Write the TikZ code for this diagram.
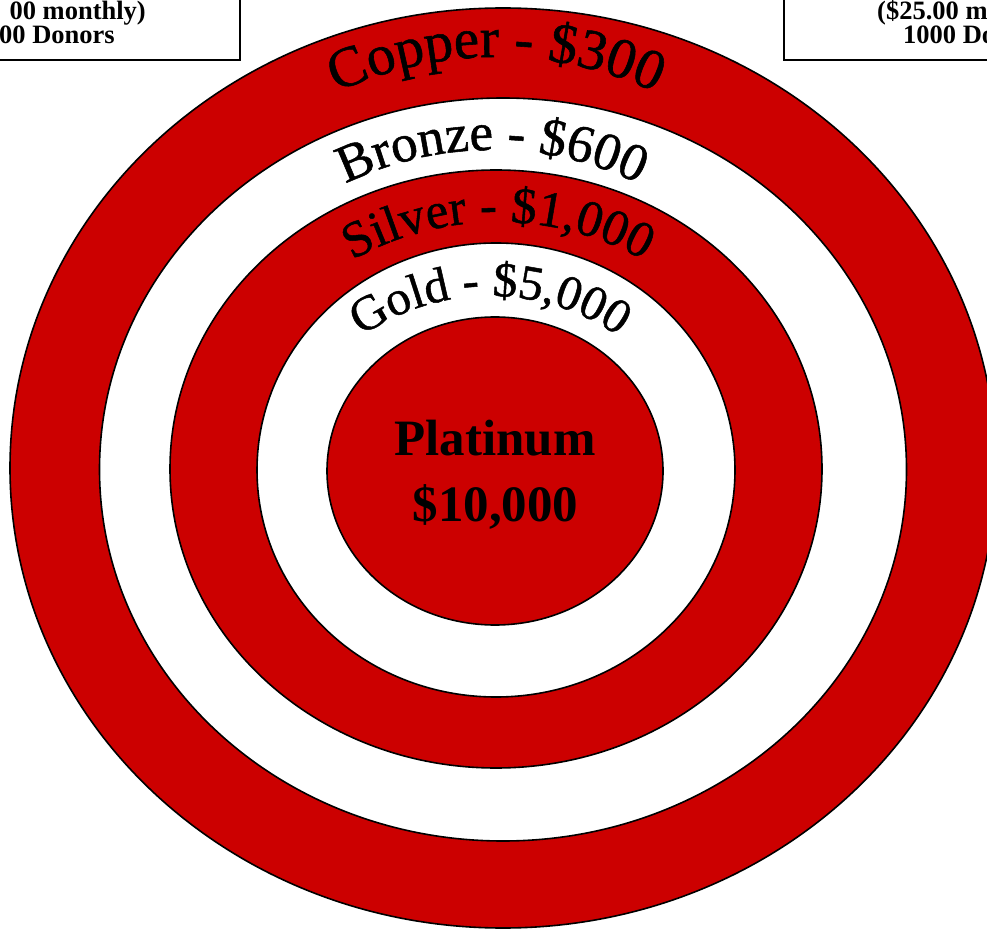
\documentclass[tikz,border=0pt]{standalone}
\usepackage{fontspec}
\setmainfont{Liberation Serif}
\newfontfamily\arcfont[FakeBold=1]{Liberation Serif}
\usetikzlibrary{decorations.text}
\definecolor{ringred}{RGB}{204,0,0}
\begin{document}
\begin{tikzpicture}[x=1pt,y=1pt,
  ring/.style={draw=black, line width=1.6pt},
  redring/.style={ring, fill=ringred},
  whitering/.style={ring, fill=white},
  boxstyle/.style={draw=black, line width=1.8pt, fill=white},
  boxtext/.style={font=\fontsize{26.5}{24}\selectfont\bfseries, inner sep=0pt},
  centretext/.style={font=\fontsize{51}{60}\selectfont\bfseries, inner sep=0pt, anchor=base}]
\useasboundingbox (0,0) rectangle (987,930);
\clip (0,0) rectangle (987,930);
\fill[white] (0,0) rectangle (987,930);
% corner boxes
\draw[boxstyle] (-50,870) rectangle (240,1000);
\draw[boxstyle] (784,870) rectangle (1100,1000);
\node[boxtext, anchor=base east] (lt1) at (146,910) {00 monthly)};
\node[boxtext, anchor=base east] (lt2) at (115,886) {000 Donors};
\node[boxtext, anchor=base west] (rt1) at (877,910) {(\$25.00 monthly)};
\node[boxtext, anchor=base west] (rt2) at (903,886) {1000 Donors};
% rings
\draw[redring] (503,462) ellipse [x radius=493, y radius=460];
\draw[whitering] (503,460.5) ellipse [x radius=403.5, y radius=371.5];
\draw[redring] (496,461) ellipse [x radius=326, y radius=299];
\draw[whitering] (496,460) ellipse [x radius=239, y radius=227];
\draw[redring] (495,459) ellipse [x radius=168, y radius=154];
% arc labels
\path[decorate, decoration={text along path, text align=center,
  text={|\arcfont\fontsize{57}{57}\selectfont|Copper - {\$}300}}]
  ([shift={(140:377)}]496,496) arc[start angle=140, end angle=40, radius=377];
\path[decorate, decoration={text along path, text align=center,
  text={|\arcfont\fontsize{53}{53}\selectfont|Bronze - {\$}600}}]
  ([shift={(140:335)}]492,445) arc[start angle=140, end angle=40, radius=335];
\path[decorate, decoration={text along path, text align=center,
  text={|\arcfont\fontsize{51}{51}\selectfont|Silver - {\$}1{,}000}}]
  ([shift={(145:297)}]498,411) arc[start angle=145, end angle=35, radius=297];
\path[decorate, decoration={text along path, text align=center,
  text={|\arcfont\fontsize{49}{49}\selectfont|Gold - {\$}5{,}000}}]
  ([shift={(150:225)}]490,409) arc[start angle=150, end angle=30, radius=225];
% centre
\node[centretext] (plat) at (495,475) {Platinum};
\node[centretext] (amount) at (495.5,409) {\$10,000};
\end{tikzpicture}
\end{document}
